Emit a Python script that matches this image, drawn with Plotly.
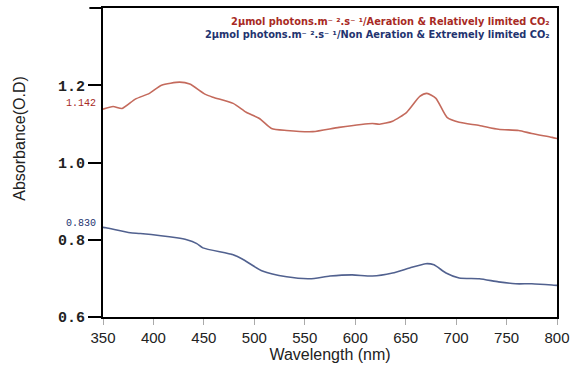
import plotly.graph_objects as go

# Data
wl_red = [350, 360, 369, 382, 396, 408, 426, 436, 451, 459, 479, 492, 505, 517, 532, 558,
          584, 617, 624, 637, 651, 664, 671, 680, 691, 703, 723, 742, 762, 775, 795, 800]
abs_red = [1.138, 1.145, 1.140, 1.164, 1.179, 1.200, 1.208, 1.203, 1.177, 1.169, 1.153, 1.130,
           1.114, 1.088, 1.083, 1.080, 1.091, 1.101, 1.099, 1.107, 1.130, 1.171, 1.179, 1.166,
           1.117, 1.104, 1.096, 1.086, 1.083, 1.075, 1.065, 1.062]

wl_blue = [350, 353, 377, 387, 423, 433, 443, 449, 479, 488, 508, 532, 555, 575, 597, 617,
           637, 654, 670, 678, 690, 703, 723, 742, 759, 775, 795, 800]
abs_blue = [0.832, 0.831, 0.818, 0.816, 0.805, 0.800, 0.790, 0.779, 0.761, 0.750, 0.719, 0.704,
            0.699, 0.706, 0.709, 0.706, 0.714, 0.727, 0.738, 0.735, 0.714, 0.701, 0.699, 0.691,
            0.686, 0.686, 0.683, 0.682]

x_ticks = [350, 400, 450, 500, 550, 600, 650, 700, 750, 800]
y_ticks = [0.6, 0.8, 1.0, 1.2]
y_tick_labels = ["0.6", "0.8", "1.0", "1.2"]

series_names = [
    "2μmol photons.m⁻ ².s⁻ ¹/Aeration & Relatively limited CO₂",
    "2μmol photons.m⁻ ².s⁻ ¹/Non Aeration & Extremely limited CO₂",
]
start_labels = ["1.142", "0.830"]
start_values = [1.142, 0.830]

red_line = "#c46a5c"
blue_line = "#51618f"
red_text = "#a82a24"
blue_text = "#23336f"

fig = go.Figure()
fig.add_trace(go.Scatter(x=wl_red, y=abs_red, mode="lines", name=series_names[0],
                         line=dict(color=red_line, width=1.6, shape="spline", smoothing=0.6)))
fig.add_trace(go.Scatter(x=wl_blue, y=abs_blue, mode="lines", name=series_names[1],
                         line=dict(color=blue_line, width=1.6, shape="spline", smoothing=0.6)))

fig.update_layout(
    width=573, height=373,
    margin=dict(l=103, r=16, t=8, b=56),
    paper_bgcolor="white", plot_bgcolor="white",
    showlegend=False,
    xaxis=dict(
        range=[350, 800], tickvals=x_ticks, ticktext=[str(v) for v in x_ticks],
        showgrid=False, zeroline=False, automargin=False,
        showline=True, linecolor="black", linewidth=2, mirror=True,
        ticks="outside", ticklen=6, tickcolor="#aaaaaa", tickwidth=1,
        tickfont=dict(family="Liberation Sans, Arial", size=15, color="#222222"),
        title=dict(text="Wavelength (nm)", standoff=4,
                   font=dict(family="Liberation Sans, Arial", size=16, color="#222222")),
    ),
    yaxis=dict(
        range=[0.6, 1.4], tickvals=y_ticks, ticktext=y_tick_labels,
        showgrid=False, zeroline=False, automargin=False,
        showline=True, linecolor="black", linewidth=2, mirror=True,
        ticks="outside", ticklen=13, tickcolor="black", tickwidth=2,
        tickfont=dict(family="Liberation Mono, Courier New", size=15, color="#222222", weight="bold"),
    ),
)

# top frame extension to the left
fig.add_shape(type="line", xref="paper", yref="paper", x0=-0.03, x1=0, y0=1, y1=1,
              line=dict(color="black", width=2))

# y axis title as annotation
fig.add_annotation(text="Absorbance(O.D)", xref="paper", yref="paper",
                   x=-0.183, y=0.58, xanchor="center", yanchor="middle",
                   textangle=-90, showarrow=False,
                   font=dict(family="Liberation Sans, Arial", size=16, color="#222222"))

# legend texts (one block, two coloured lines)
legend_text = (f"<span style='color:{red_text}'>{series_names[0]}</span><br>"
               f"<span style='color:{blue_text}'>{series_names[1]}</span>")
fig.add_annotation(text=legend_text, xref="paper", yref="paper",
                   x=0.99, y=0.934, xanchor="right", yanchor="middle", align="right",
                   showarrow=False,
                   font=dict(family="DejaVu Sans", size=9.8, color=red_text, weight="bold"))

# starting value labels
for lab, val, col in zip(start_labels, start_values, [red_text, blue_text]):
    fig.add_annotation(text=lab, xref="paper", yref="y", x=-0.012, y=val + 0.012,
                       xanchor="right", yanchor="middle", showarrow=False,
                       font=dict(family="Liberation Mono, Courier New", size=10, color=col))

fig.write_html("out.html", config={"displayModeBar": False},
               post_script="document.body.style.margin='0';")
